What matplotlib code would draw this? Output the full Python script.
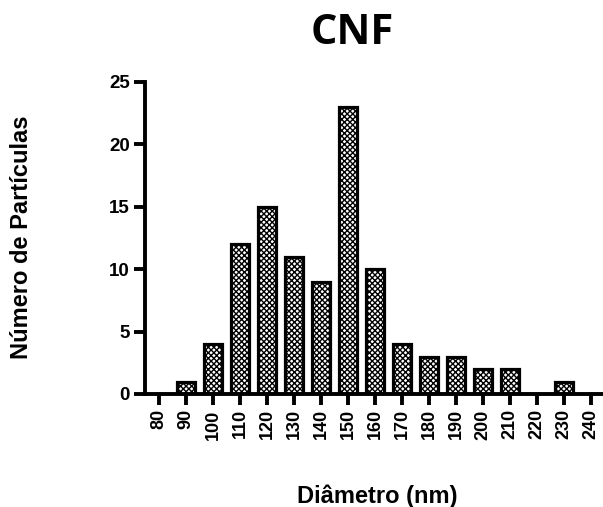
import matplotlib
matplotlib.use("Agg")
import matplotlib.pyplot as plt
import numpy as np

diameters = [80, 90, 100, 110, 120, 130, 140, 150, 160, 170, 180, 190, 200, 210, 220, 230, 240]
counts = [0, 1, 4, 12, 15, 11, 9, 23, 10, 4, 3, 3, 2, 2, 0, 1, 0]
yticks = [0, 5, 10, 15, 20, 25]

plt.rcParams['font.family'] = ['Liberation Sans', 'DejaVu Sans']
plt.rcParams['hatch.linewidth'] = 1.0

fig = plt.figure(figsize=(6.03, 5.07), dpi=100)
ax = fig.add_axes([145/603, 113/507, 458/603, 312/507])

ax.bar(diameters, counts, width=6.6, color='white', edgecolor='black',
       linewidth=2.3, hatch='xxxxxx')

ax.set_xlim(74.7, 244.4)
ax.set_ylim(0, 25)
ax.set_xticks(diameters)
ax.set_xticklabels([str(d) for d in diameters], rotation=90, fontweight='bold', fontsize=13)
ax.set_yticks(yticks)
ax.set_yticklabels([str(t) for t in yticks], fontweight='bold', fontsize=13.5)

for s in ['top', 'right']:
    ax.spines[s].set_visible(False)
for s in ['left', 'bottom']:
    ax.spines[s].set_linewidth(2.8)
ax.tick_params(axis='both', direction='out', length=8, width=2.8, pad=3)

fig.text(377/603, 1-503/507, 'Diâmetro (nm)', fontweight='bold', fontsize=17,
         ha='center', va='baseline')
fig.text(22/603, 1-237/507, 'Número de Partículas', fontweight='bold', fontsize=17,
         ha='center', va='center', rotation=90)
fig.text(352/603, 1-34/507, 'CNF', fontweight='bold', fontsize=30, ha='center', va='center',
         family=['Open Sans', 'DejaVu Sans'])

fig.savefig('out.png', dpi=100)
